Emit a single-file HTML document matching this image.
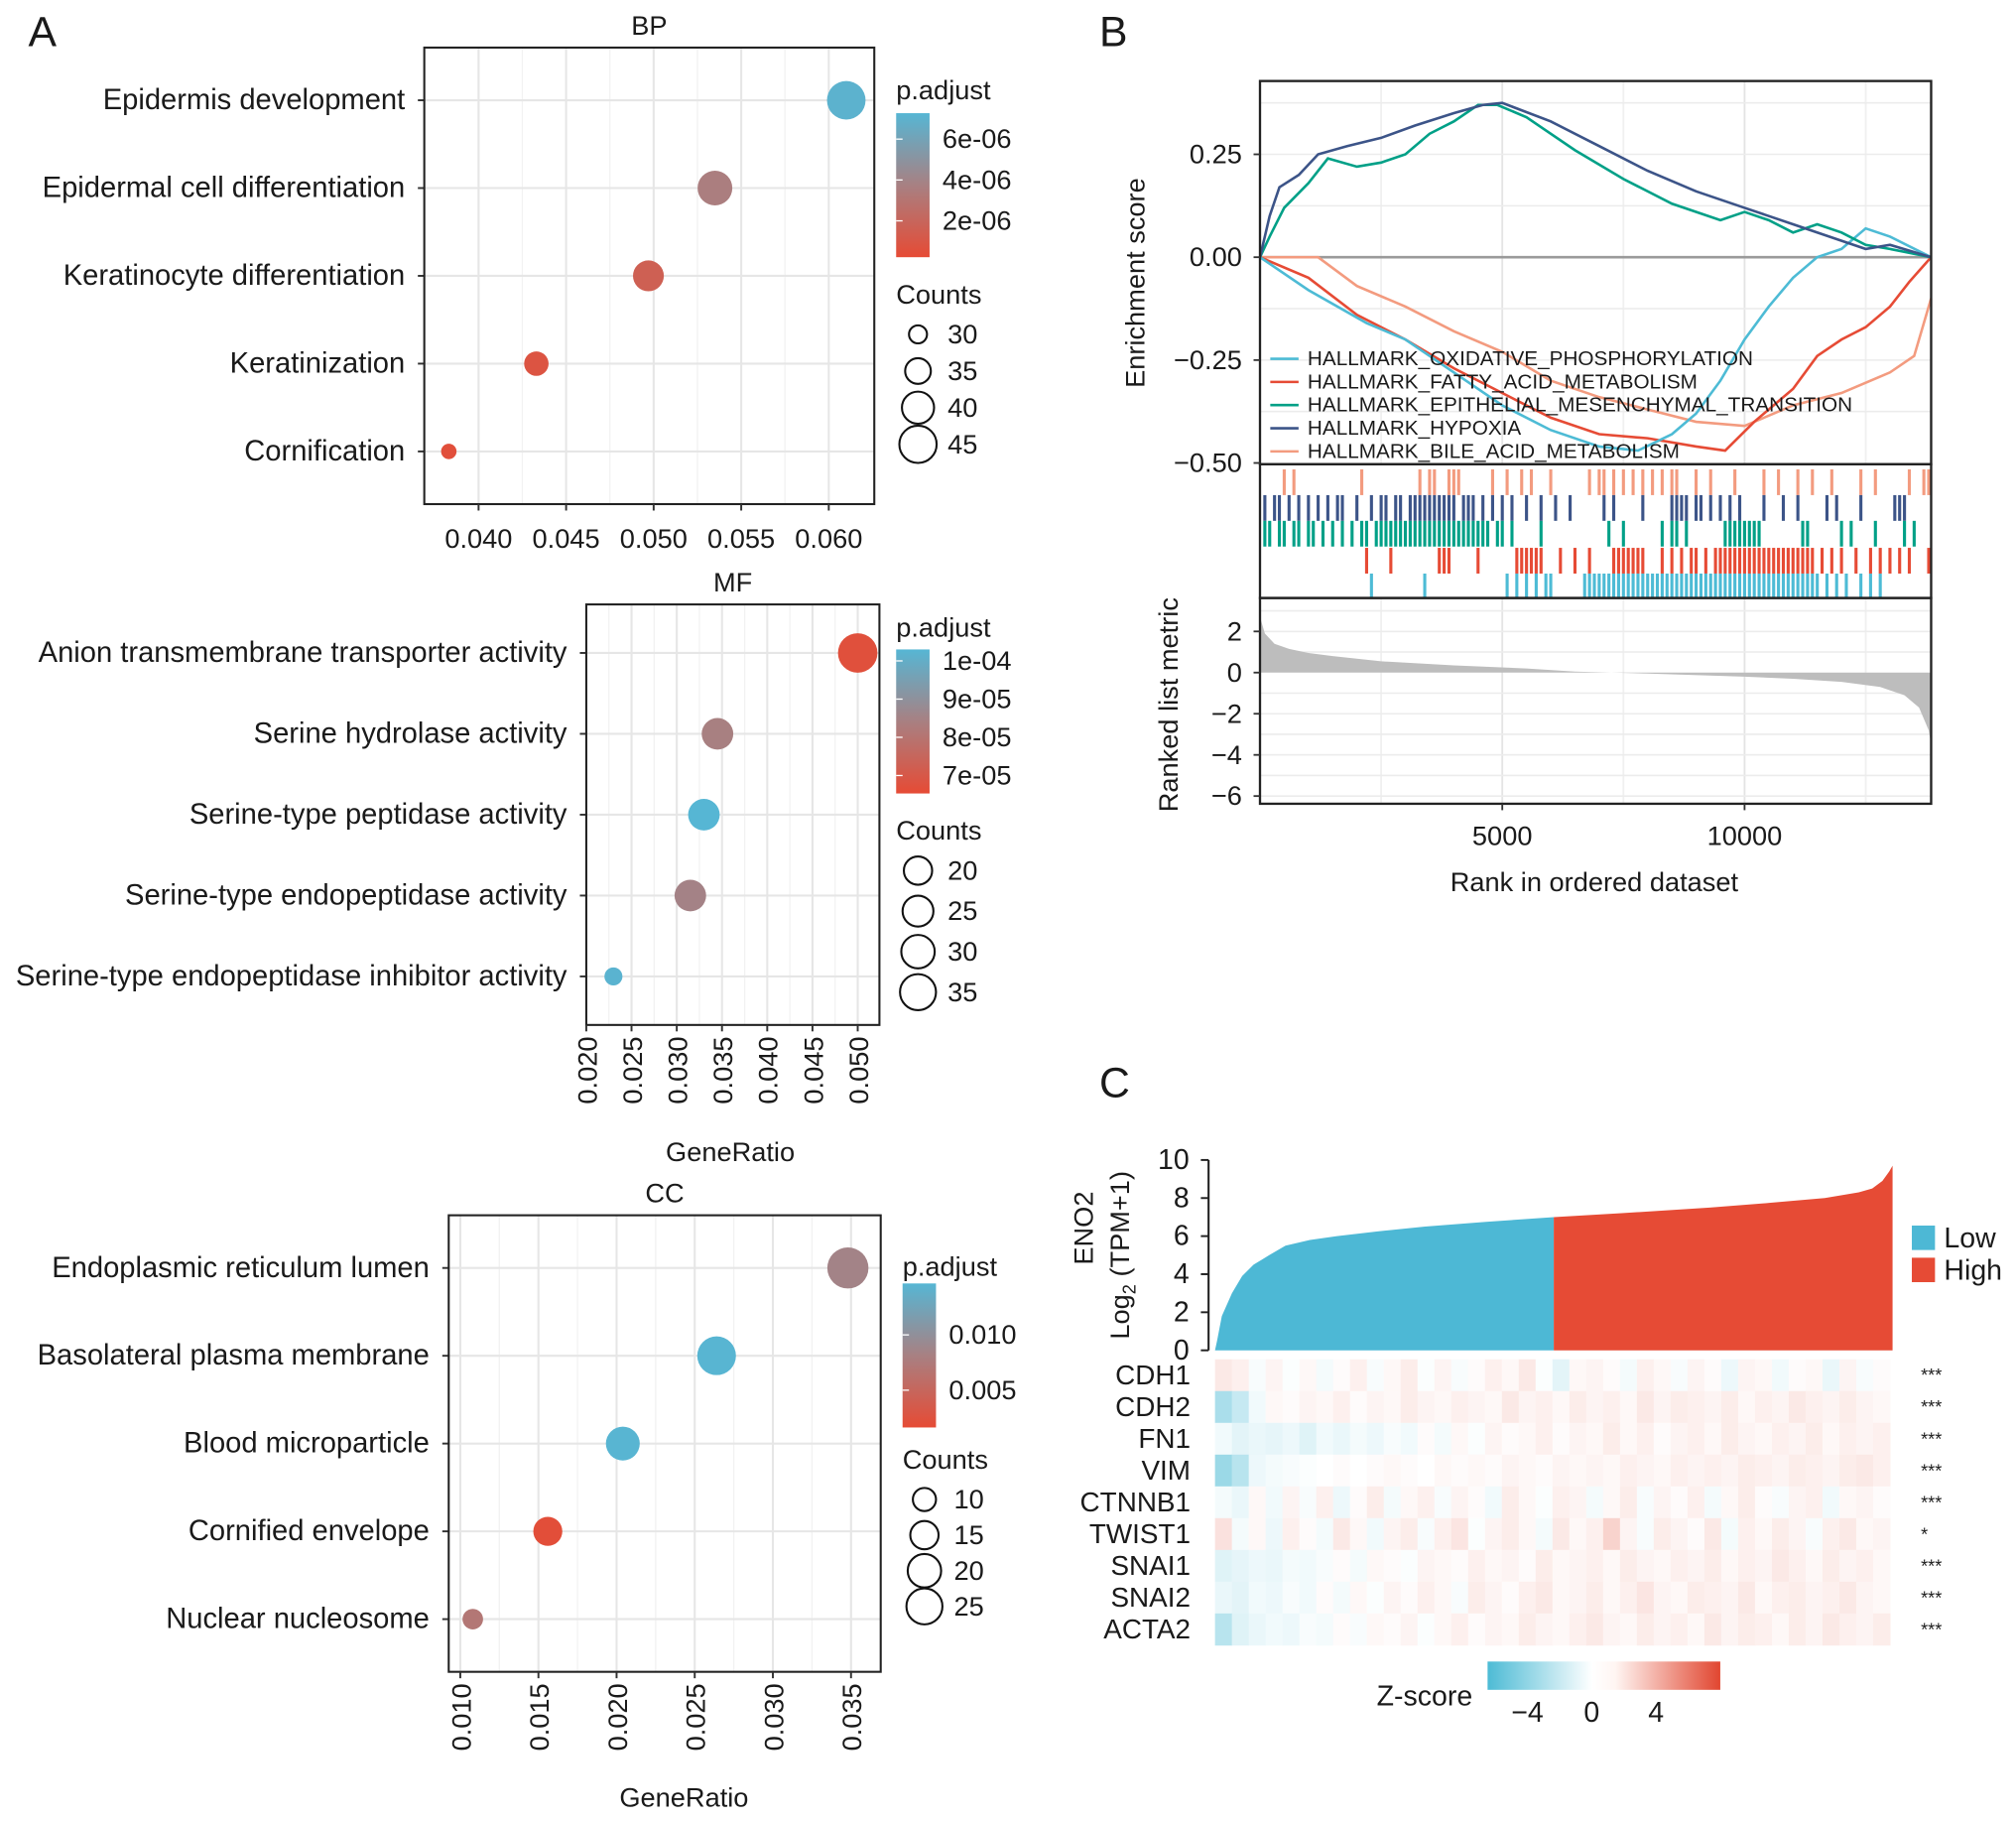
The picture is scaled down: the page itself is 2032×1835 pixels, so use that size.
<!DOCTYPE html>
<html><head><meta charset="utf-8"><title>GO enrichment, GSEA and ENO2 heatmap</title>
<style>
html,body{margin:0;padding:0;background:#fff;}
svg{display:block;font-family:"Liberation Sans",Arial,sans-serif;}
text{fill:#1a1a1a;}
</style></head>
<body>
<svg id="fig" xmlns="http://www.w3.org/2000/svg" width="2032" height="1835" viewBox="0 0 1568 1416">
<defs>
<linearGradient id="padjGrad" x1="0" y1="1" x2="0" y2="0">
<stop offset="0" stop-color="rgb(230,75,53)"/><stop offset="0.5" stop-color="rgb(168,128,130)"/><stop offset="1" stop-color="rgb(86,182,212)"/>
</linearGradient>
<linearGradient id="zGrad" x1="0" y1="0" x2="1" y2="0">
<stop offset="0" stop-color="rgb(77,187,213)"/><stop offset="0.45" stop-color="#ffffff"/><stop offset="0.55" stop-color="#fff5f2"/><stop offset="1" stop-color="rgb(225,70,48)"/>
</linearGradient>
</defs>
</svg>
<script>
// ===== Panel A data =====
const bpTerms=["Epidermis development","Epidermal cell differentiation","Keratinocyte differentiation","Keratinization","Cornification"];
const bpRatio=[0.0610,0.0535,0.0497,0.0433,0.0383];
const bpCount=[46,43,40,35,28];
const bpPadj=[7.0e-06,3.6e-06,1.6e-06,0.8e-06,0.5e-06];
const bpTicks=[0.040,0.045,0.050,0.055,0.060];
const bpPadjTicks=[6e-06,4e-06,2e-06];
const bpPadjLabels=["6e-06","4e-06","2e-06"];
const bpCountTicks=[30,35,40,45];

const mfTerms=["Anion transmembrane transporter activity","Serine hydrolase activity","Serine-type peptidase activity","Serine-type endopeptidase activity","Serine-type endopeptidase inhibitor activity"];
const mfRatio=[0.0500,0.0345,0.0330,0.0315,0.0230];
const mfCount=[37,30,30,30,18];
const mfPadj=[6.7e-05,8.4e-05,1.03e-04,8.5e-05,1.02e-04];
const mfTicks=[0.020,0.025,0.030,0.035,0.040,0.045,0.050];
const mfPadjTicks=[1e-04,9e-05,8e-05,7e-05];
const mfPadjLabels=["1e-04","9e-05","8e-05","7e-05"];
const mfCountTicks=[20,25,30,35];

const ccTerms=["Endoplasmic reticulum lumen","Basolateral plasma membrane","Blood microparticle","Cornified envelope","Nuclear nucleosome"];
const ccRatio=[0.0348,0.0264,0.0204,0.0156,0.0108];
const ccCount=[27,25,21,17,10];
const ccPadj=[0.0085,0.0145,0.0145,0.0020,0.0070];
const ccTicks=[0.010,0.015,0.020,0.025,0.030,0.035];
const ccPadjTicks=[0.010,0.005];
const ccPadjLabels=["0.010","0.005"];
const ccCountTicks=[10,15,20,25];

// ===== Panel B data =====
const esSeriesNames=["HALLMARK_OXIDATIVE_PHOSPHORYLATION","HALLMARK_FATTY_ACID_METABOLISM","HALLMARK_EPITHELIAL_MESENCHYMAL_TRANSITION","HALLMARK_HYPOXIA","HALLMARK_BILE_ACID_METABOLISM"];
const oxRank=[0,1000,2200,3000,4000,5000,6000,7000,7800,8500,9000,9500,10000,10500,11000,11500,12000,12500,13000,13850];
const oxES=[0,-0.08,-0.16,-0.2,-0.28,-0.36,-0.42,-0.46,-0.47,-0.43,-0.38,-0.3,-0.2,-0.12,-0.05,0,0.02,0.07,0.05,0];
const faRank=[0,1000,2000,3000,4000,5000,6000,7000,8000,9000,9600,10200,11000,11500,12000,12500,13000,13400,13700,13850];
const faES=[0,-0.05,-0.14,-0.2,-0.27,-0.33,-0.39,-0.43,-0.44,-0.46,-0.47,-0.4,-0.32,-0.24,-0.2,-0.17,-0.12,-0.06,-0.02,0];
const emtRank=[0,200,500,1000,1400,2000,2500,3000,3500,4000,4500,4900,5500,6500,7500,8500,9500,10000,10500,11000,11500,12000,12500,13000,13850];
const emtES=[0,0.05,0.12,0.18,0.24,0.22,0.23,0.25,0.3,0.33,0.37,0.37,0.34,0.26,0.19,0.13,0.09,0.11,0.09,0.06,0.08,0.06,0.03,0.02,0];
const hypRank=[0,200,400,800,1200,1800,2500,3200,4000,4600,5000,6000,7000,8000,9000,10000,11000,12000,12500,13000,13850];
const hypES=[0,0.1,0.17,0.2,0.25,0.27,0.29,0.32,0.35,0.37,0.375,0.33,0.27,0.21,0.16,0.12,0.08,0.04,0.02,0.03,0];
const bileRank=[0,1200,2000,3000,4000,5000,6000,7000,8000,9000,10000,11000,12000,13000,13500,13850];
const bileES=[0,0,-0.07,-0.12,-0.18,-0.23,-0.3,-0.34,-0.37,-0.4,-0.41,-0.36,-0.33,-0.28,-0.24,-0.1];
// hit positions (in units of 100 ranks)
const bileHits=[5,7,21,33,35,36,39,40,41,48,51,54,56,60,68,70,71,73,75,77,79,81,83,85,86,90,93,98,104,107,111,114,118,124,127,134,137,138];
const hypHits=[1,3,4,6,8,10,12,14,16,17,20,23,25,26,28,29,31,32,33,34,35,36,37,38,39,40,42,43,44,46,48,50,52,55,58,61,64,71,73,79,85,86,87,88,90,91,93,95,97,99,104,108,111,117,119,124,131,132,133];
const emtHits=[1,2,4,5,7,8,10,11,13,15,17,19,21,22,24,25,26,27,28,29,30,31,32,33,34,35,36,37,38,39,40,41,42,43,44,45,46,47,49,50,52,58,72,75,83,85,86,88,96,97,98,99,100,101,102,103,112,113,120,122,127,133,135];
const faHits=[22,27,37,38,39,45,53,54,55,56,57,58,62,65,68,73,74,75,76,77,78,79,83,85,87,89,90,92,94,95,96,97,98,99,100,101,102,103,104,105,106,107,108,109,110,111,112,113,114,116,118,120,123,126,128,130,132,134,138];
const oxHits=[23,34,51,53,55,57,59,60,67,68,69,70,71,72,73,74,75,76,77,78,79,80,81,82,83,84,85,86,87,88,89,90,91,92,93,94,95,96,97,98,99,100,101,102,103,104,105,106,107,108,109,110,111,112,113,114,115,117,119,121,124,126,128];
const metricRank=[0,100,300,600,1000,1500,2500,4000,5500,6500,8000,10000,11000,12000,12800,13300,13600,13800,13850];
const metricVal=[2.7,1.9,1.4,1.15,0.95,0.8,0.55,0.35,0.2,0.05,-0.05,-0.2,-0.3,-0.45,-0.7,-1.1,-1.7,-2.8,-3.5];
const esTicks=[0.25,0,-0.25,-0.5];
const esTickLabels=["0.25","0.00","\u22120.25","\u22120.50"];
const metricTicks=[2,0,-2,-4,-6];
const metricTickLabels=["2","0","\u22122","\u22124","\u22126"];
const rankTicks=[5000,10000];

// ===== Panel C data =====
const eno2Pct=[0,0.003,0.01,0.025,0.04,0.057,0.08,0.104,0.14,0.18,0.24,0.31,0.4,0.5,0.6,0.73,0.82,0.9,0.95,0.97,0.985,0.995,1];
const eno2Val=[0,0.5,1.8,3,3.9,4.5,5.0,5.5,5.8,6,6.25,6.5,6.75,7.0,7.2,7.5,7.75,8,8.3,8.5,8.9,9.4,9.7];
const eno2Ticks=[0,2,4,6,8,10];
const genes=["CDH1","CDH2","FN1","VIM","CTNNB1","TWIST1","SNAI1","SNAI2","ACTA2"];
const signif=["***","***","***","***","***","*","***","***","***"];
const zRows=[
"0.6 0.4 -0.2 0.3 -0.1 0.2 -0.3 0.1 0.4 -0.2 0.2 0.5 -0.1 0.3 -0.2 0.1 0.4 0.2 0.6 -0.1 -0.8 0.2 0.3 0.1 -0.3 0.4 0.2 -0.2 0.3 0.1 -0.5 0.3 0.2 -0.4 0.1 0.2 -0.6 0.3 -0.2 0.1",
"-2.4 -1.6 -0.4 0.2 0.1 0.3 0.2 0.4 0.1 0.3 0.2 0.5 0.3 0.2 0.4 0.3 0.2 0.6 0.3 0.4 0.2 0.5 0.3 0.4 0.2 0.6 0.3 0.5 0.4 0.3 0.5 0.2 0.4 0.3 0.6 0.4 0.3 0.5 0.3 0.2",
"-0.4 -0.8 -0.6 -0.7 -0.5 -0.9 -0.4 -0.6 -0.3 -0.5 -0.2 -0.4 0.1 -0.3 0.2 -0.1 0.3 0.1 0.2 0.4 0.1 0.3 0.2 0.5 0.2 0.4 0.1 0.3 0.4 0.2 0.5 0.3 0.2 0.4 0.3 0.5 0.2 0.4 0.3 0.4",
"-2.8 -2.0 -0.5 -0.3 -0.2 -0.1 0 0.1 0 0.1 0.2 0.1 0 0.2 0.1 0.2 0.1 0.3 0.2 0.1 0.3 0.2 0.3 0.2 0.4 0.3 0.2 0.4 0.3 0.4 0.3 0.5 0.4 0.3 0.5 0.4 0.3 0.5 0.6 0.4",
"-0.3 -0.6 0.2 -0.4 0.3 -0.2 0.4 -0.5 0.1 0.5 -0.3 0.2 0.4 -0.2 0.3 0.1 -0.4 0.5 0.2 -0.1 0.4 0.3 -0.3 0.2 0.5 -0.2 0.3 0.1 0.4 -0.3 0.2 0.5 0.1 -0.2 0.3 0.4 -0.4 0.2 0.3 0.1",
"0.8 -0.3 0.2 -0.5 0.4 0.1 -0.3 0.6 0.2 -0.4 0.3 0.5 -0.2 0.4 0.7 -0.1 0.3 0.5 0.2 -0.3 0.6 0.2 0.4 1.2 0.3 -0.2 0.5 0.3 0.1 0.6 -0.3 0.4 0.2 0.5 0.3 -0.2 0.4 0.6 0.2 0.3",
"-0.9 -0.7 -0.5 -0.6 -0.3 -0.4 -0.2 0.1 -0.3 0.2 0.1 -0.1 0.3 0.2 0.1 0.4 0.2 0.3 0.1 0.5 0.2 0.3 0.4 0.2 0.5 0.3 0.2 0.4 0.3 0.5 0.2 0.4 0.3 0.6 0.4 0.2 0.5 0.3 0.4 0.2",
"-0.6 -0.8 -0.4 -0.5 -0.2 -0.4 0.1 -0.3 0.2 -0.1 0.3 0.1 0.4 0.2 -0.2 0.5 0.3 0.1 0.4 0.6 0.2 0.3 0.5 0.2 0.4 0.7 0.3 0.2 0.5 0.4 0.3 0.6 0.2 0.4 0.5 0.3 0.4 0.6 0.3 0.2",
"-2.0 -0.9 -0.6 -0.4 -0.5 -0.2 -0.3 0.1 -0.2 0.2 0.1 0.3 -0.1 0.2 0.4 0.1 0.3 0.2 0.5 0.3 0.2 0.4 0.6 0.3 0.2 0.5 0.3 0.4 0.2 0.6 0.3 0.5 0.4 0.2 0.5 0.3 0.6 0.4 0.3 0.5"
];
const zTicks=[-4,0,4];
const zTickLabels=["\u22124","0","4"];

// ===== helpers =====
const NS='http://www.w3.org/2000/svg';
const svg=document.getElementById('fig');
function mk(tag,attrs,parent){const e=document.createElementNS(NS,tag);for(const k in attrs)e.setAttribute(k,attrs[k]);(parent||svg).appendChild(e);return e;}
function tx(str,x,y,size,anchor,parent){const t=mk('text',{x:x,y:y,'font-size':size,'text-anchor':anchor||'start'},parent);t.textContent=str;return t;}
function lerpCol(t){t=Math.max(0,Math.min(1,t));const a=[230,75,53],m=[168,128,130],b=[86,182,212];let c;if(t<0.5){const u=t/0.5;c=a.map((v,i)=>v+(m[i]-v)*u);}else{const u=(t-0.5)/0.5;c=m.map((v,i)=>v+(b[i]-v)*u);}return 'rgb('+c.map(Math.round).join(',')+')';}

[["A",22,36],["B",855,36],["C",855,853]].forEach(function(d){
  const t=tx(d[0],d[1],d[2],33,'start');
  
  
});

function dotPanel(cfg){
  const g=mk('g',{});
  
  
  const [x0,y0,x1,y1]=cfg.box;
  const xs=v=>x0+(v-cfg.dom[0])/(cfg.dom[1]-cfg.dom[0])*(x1-x0);
  const unit=(y1-y0)/5.2;
  const ys=i=>y0+(0.6+i)*unit;
  for(let i=0;i<cfg.ticks.length-1;i++){const m=(cfg.ticks[i]+cfg.ticks[i+1])/2;const l=mk('line',{x1:xs(m),x2:xs(m),y1:y0,y2:y1,stroke:'#f2f2f2','stroke-width':1},g);}
  cfg.ticks.forEach(function(v){const l=mk('line',{x1:xs(v),x2:xs(v),y1:y0,y2:y1,stroke:'#e6e6e6','stroke-width':1.6},g);});
  cfg.terms.forEach(function(t,i){const l=mk('line',{x1:x0,x2:x1,y1:ys(i),y2:ys(i),stroke:'#e6e6e6','stroke-width':1.6},g);});
  const rs=c=>cfg.r0+(c-cfg.c0)*cfg.rk;
  cfg.terms.forEach(function(t,i){
    const c=mk('circle',{cx:xs(cfg.ratio[i]),cy:ys(i),r:rs(cfg.count[i]),fill:lerpCol((cfg.padj[i]-cfg.pr[0])/(cfg.pr[1]-cfg.pr[0]))},g);
    
    
    const lb=tx(t,x0-15,ys(i)+7,22.5,'end',g);
    
    
    const tk=mk('line',{x1:x0-5,x2:x0,y1:ys(i),y2:ys(i),stroke:'#333','stroke-width':1.5},g);
    
    
  });
  const fr=mk('rect',{x:x0,y:y0,width:x1-x0,height:y1-y0,fill:'none',stroke:'#222','stroke-width':1.6},g);
  
  
  const ti=tx(cfg.title,(x0+x1)/2,y0-10,21,'middle',g);
  
  
  cfg.ticks.forEach(function(v){
    const tk=mk('line',{x1:xs(v),x2:xs(v),y1:y1,y2:y1+5,stroke:'#333','stroke-width':1.5},g);
    
    
    let lb;
    if(cfg.rot){lb=tx(v.toFixed(3),0,0,21,'end',g);lb.setAttribute('transform','translate('+(xs(v)+8)+','+(y1+9)+') rotate(-90)');}
    else{lb=tx(v.toFixed(3),xs(v),y1+34,21,'middle',g);}
    
    
  });
  if(cfg.xtitleY){const xt=tx('GeneRatio',cfg.xtitleX,cfg.xtitleY,21,'middle',g);}
  const lx=cfg.lx;
  const pt=tx('p.adjust',lx,cfg.ly,21,'start',g);
  
  
  const cb=mk('rect',{x:lx,y:cfg.cb[0],width:26,height:cfg.cb[1]-cfg.cb[0],fill:'url(#padjGrad)'},g);
  
  
  const cy=v=>cfg.cb[1]-(v-cfg.pr[0])/(cfg.pr[1]-cfg.pr[0])*(cfg.cb[1]-cfg.cb[0]);
  cfg.pt.forEach(function(v,i){
    const m=mk('line',{x1:lx,x2:lx+5,y1:cy(v),y2:cy(v),stroke:'#fff','stroke-width':1},g);
    
    
    const l=tx(cfg.pl[i],lx+36,cy(v)+7,21,'start',g);
    
    
  });
  const ct=tx('Counts',lx,cfg.cy0,21,'start',g);
  
  
  cfg.ct.forEach(function(v,i){
    const y=cfg.cy0+24+i*cfg.cstep;
    const c=mk('circle',{cx:lx+17,cy:y,r:cfg.lr[i],fill:'none',stroke:'#111','stroke-width':1.6},g);
    
    
    const l=tx(String(v),lx+40,y+7,21,'start',g);
    
    
  });
}
dotPanel({key:'bp',title:'BP',box:[330,37,680,392],dom:[0.0369,0.0626],terms:bpTerms,ratio:bpRatio,count:bpCount,padj:bpPadj,ticks:bpTicks,rot:false,
  pr:[0.22e-06,7.27e-06],pt:bpPadjTicks,pl:bpPadjLabels,ct:bpCountTicks,lr:[7,10,12.5,14.5],cstep:28.5,r0:6,c0:28,rk:0.5,
  lx:697,ly:77,cb:[88,200],cy0:236});
dotPanel({key:'mf',title:'MF',box:[456,470,684,797],dom:[0.0200,0.0524],terms:mfTerms,ratio:mfRatio,count:mfCount,padj:mfPadj,ticks:mfTicks,rot:true,xtitleX:568,xtitleY:903,
  pr:[6.53e-05,1.03e-04],pt:mfPadjTicks,pl:mfPadjLabels,ct:mfCountTicks,lr:[11,12,13,14],cstep:31.5,r0:7,c0:18,rk:0.44,
  lx:697,ly:495,cb:[505,617],cy0:653});
dotPanel({key:'cc',title:'CC',box:[349,945,685,1300],dom:[0.00926,0.0369],terms:ccTerms,ratio:ccRatio,count:ccCount,padj:ccPadj,ticks:ccTicks,rot:true,xtitleX:532,xtitleY:1405,
  pr:[0.00163,0.01465],pt:ccPadjTicks,pl:ccPadjLabels,ct:ccCountTicks,lr:[9,11,13,14],cstep:27.7,r0:8,c0:10,rk:0.47,
  lx:702,ly:992,cb:[998,1110],cy0:1142});

(function(){
  const g=mk('g',{});
  
  
  const X0=980,X1=1502,RMAX=13850;
  const xs=r=>X0+r/RMAX*(X1-X0);
  const esY=v=>200-v*320;
  const mY=v=>523-v*16;
  [2500,5000,7500,10000,12500].forEach(function(r){
    const l=mk('line',{x1:xs(r),x2:xs(r),y1:63,y2:361,stroke:r%5000===0?'#e4e4e4':'#f0f0f0','stroke-width':1.4},g);
    
    
    const l2=mk('line',{x1:xs(r),x2:xs(r),y1:465,y2:625,stroke:r%5000===0?'#e4e4e4':'#f0f0f0','stroke-width':1.4},g);
    
    
  });
  [0.375,0.25,0.125,-0.125,-0.25,-0.375].forEach(function(v){
    const l=mk('line',{x1:X0,x2:X1,y1:esY(v),y2:esY(v),stroke:'#ececec','stroke-width':1.2},g);
    
    
  });
  [3,2,1,-1,-2,-3,-4,-5,-6].forEach(function(v){
    const l=mk('line',{x1:X0,x2:X1,y1:mY(v),y2:mY(v),stroke:'#ececec','stroke-width':1.2},g);
    
    
  });
  const zl=mk('line',{x1:X0,x2:X1,y1:esY(0),y2:esY(0),stroke:'#9a9a9a','stroke-width':2},g);
  
  
  const series=[[oxRank,oxES,'#4DBBD5'],[faRank,faES,'#E64B35'],[emtRank,emtES,'#00A087'],[hypRank,hypES,'#3C5488'],[bileRank,bileES,'#F39B7F']];
  [4,1,0,2,3].forEach(function(k){
    const s=series[k];
    const d=s[0].map((r,i)=>(i?'L':'M')+xs(r).toFixed(1)+','+esY(s[1][i]).toFixed(1)).join('');
    const p=mk('path',{d:d,fill:'none',stroke:s[2],'stroke-width':2},g);
    
    
  });
  series.forEach(function(s,i){
    const y=279+i*18;
    const l=mk('line',{x1:988,x2:1010,y1:y,y2:y,stroke:s[2],'stroke-width':2},g);
    
    
    const t=tx(esSeriesNames[i],1017,y+5,16,'start',g);
    
    
  });
  const rug=[[bileHits,'#F39B7F',365,385],[hypHits,'#3C5488',385,405],[emtHits,'#00A087',405,425],[faHits,'#E64B35',426,446],[oxHits,'#4DBBD5',446,465]];
  rug.forEach(function(rw){
    rw[0].forEach(function(h){
      const l=mk('line',{x1:xs(h*100),x2:xs(h*100),y1:rw[2],y2:rw[3],stroke:rw[1],'stroke-width':2.4},g);
      
      
    });
  });
  let d='M'+xs(0)+','+mY(0);
  metricRank.forEach(function(r,i){d+='L'+xs(r).toFixed(1)+','+mY(metricVal[i]).toFixed(1);});
  d+='L'+xs(RMAX)+','+mY(0)+'Z';
  const ar=mk('path',{d:d,fill:'#bdbdbd',stroke:'none'},g);
  
  
  [[63,361],[361,465],[465,625]].forEach(function(b){
    const r=mk('rect',{x:X0,y:b[0],width:X1-X0,height:b[1]-b[0],fill:'none',stroke:'#222','stroke-width':1.8},g);
    
    
  });
  esTicks.forEach(function(v,i){
    const t=mk('line',{x1:X0-5,x2:X0,y1:esY(v),y2:esY(v),stroke:'#333','stroke-width':1.4},g);
    
    
    const l=tx(esTickLabels[i],X0-14,esY(v)+7,21,'end',g);
    
    
  });
  metricTicks.forEach(function(v,i){
    const t=mk('line',{x1:X0-5,x2:X0,y1:mY(v),y2:mY(v),stroke:'#333','stroke-width':1.4},g);
    
    
    const l=tx(metricTickLabels[i],X0-14,mY(v)+7,21,'end',g);
    
    
  });
  rankTicks.forEach(function(r){
    const t=mk('line',{x1:xs(r),x2:xs(r),y1:625,y2:630,stroke:'#333','stroke-width':1.4},g);
    
    
    const l=tx(String(r),xs(r),657,21,'middle',g);
    
    
  });
  const xt=tx('Rank in ordered dataset',1240,693,21,'middle',g);
  
  
  const yt=tx('Enrichment score',0,0,21,'middle',g);
  yt.setAttribute('transform','translate(890,220) rotate(-90)');
  
  
  const yt2=tx('Ranked list metric',0,0,21,'middle',g);
  yt2.setAttribute('transform','translate(916,548) rotate(-90)');
  
  
})();

(function(){
  const g=mk('g',{});
  
  
  const X0=945,X1=1472,Y0=1050;
  const xs=p=>X0+p*(X1-X0);
  const ys=v=>Y0-v*14.8;
  function area(lo,hi,col,name){
    let d='M'+xs(lo)+','+Y0;
    eno2Pct.forEach(function(p,i){if(p>=lo&&p<=hi)d+='L'+xs(p).toFixed(1)+','+ys(eno2Val[i]).toFixed(1);});
    d+='L'+xs(hi)+','+Y0+'Z';
    const a=mk('path',{d:d,fill:col},g);
    
    
  }
  area(0,0.5,'#4DB8D5','eno2-low-bars');
  area(0.5,1,'#E64B35','eno2-high-bars');
  const ax=mk('line',{x1:940,x2:940,y1:ys(10),y2:ys(0),stroke:'#222','stroke-width':1.6},g);
  
  
  eno2Ticks.forEach(function(v){
    const t=mk('line',{x1:934,x2:940,y1:ys(v),y2:ys(v),stroke:'#222','stroke-width':1.5},g);
    
    
    const l=tx(String(v),925,ys(v)+7,22,'end',g);
    
    
  });
  const t1=tx('ENO2',0,0,21,'middle',g);
  t1.setAttribute('transform','translate(850,955) rotate(-90)');
  
  
  const t2=mk('text',{'font-size':21,'text-anchor':'middle',transform:'translate(878,976) rotate(-90)'},g);
  
  
  t2.innerHTML='Log<tspan font-size="14" dy="5">2</tspan><tspan dy="-5"> (TPM+1)</tspan>';
  [['Low','#4DB8D5',953],['High','#E64B35',978]].forEach(function(d){
    const r=mk('rect',{x:1487,y:d[2],width:18,height:19,fill:d[1]},g);
    
    
    const l=tx(d[0],1512,d[2]+17,22,'start',g);
    
    
  });
  const HY0=1057,RH=24.7;
  function zcol(z){const t=Math.max(-1,Math.min(1,z/6));let c;if(t<0){c=[255+(77-255)*(-t),255+(187-255)*(-t),255+(213-255)*(-t)];}else{c=[255+(225-255)*t,255+(70-255)*t,255+(48-255)*t];}return 'rgb('+c.map(Math.round).join(',')+')';}
  zRows.forEach(function(row,ri){
    const vals=row.split(' ').map(Number);
    const w=(X1-2-X0)/vals.length;
    vals.forEach(function(z,ci){
      const c=mk('rect',{x:X0+ci*w,y:HY0+ri*RH,width:w+0.4,height:RH+0.3,fill:zcol(z*1.2)},g);
      
      
    });
    const l=tx(genes[ri],926,HY0+ri*RH+RH/2+7,21.5,'end',g);
    
    
    const s=tx(signif[ri],1494,HY0+ri*RH+RH/2+5,14,'start',g);
    
    
  });
  const zx=v=>1238+v*12.5;
  const zb=mk('rect',{x:1157,y:1292,width:181,height:22,fill:'url(#zGrad)'},g);
  
  
  zTicks.forEach(function(v,i){
    const l=tx(zTickLabels[i],zx(v),1339,22,'middle',g);
    
    
  });
  const zt=tx('Z-score',1108,1326,22,'middle',g);
  
  
})();
</script>
</body></html>
